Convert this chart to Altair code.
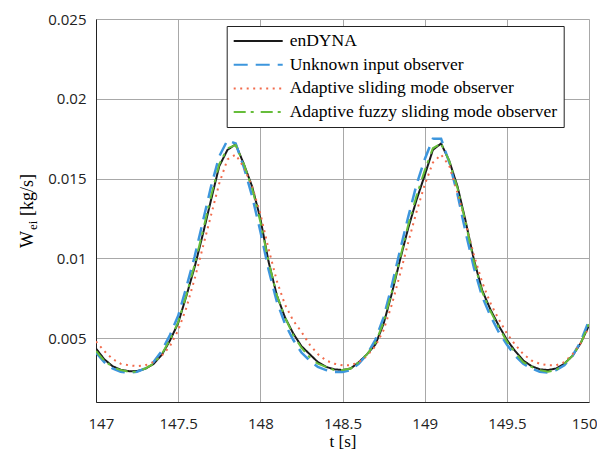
import altair as alt
import pandas as pd

t = [147.00, 147.05, 147.10, 147.15, 147.20, 147.25, 147.30, 147.35, 147.40, 147.45,
     147.50, 147.55, 147.60, 147.65, 147.70, 147.75, 147.80, 147.85, 147.90, 147.95,
     148.00, 148.05, 148.10, 148.15, 148.20, 148.25, 148.30, 148.35, 148.40, 148.45,
     148.50, 148.55, 148.60, 148.65, 148.70, 148.75, 148.80, 148.85, 148.90, 148.95,
     149.00, 149.05, 149.10, 149.15, 149.20, 149.25, 149.30, 149.35, 149.40, 149.45,
     149.50, 149.55, 149.60, 149.65, 149.70, 149.75, 149.80, 149.85, 149.90, 149.95,
     150.00]

endyna = [0.00435, 0.00368, 0.00325, 0.00302, 0.00293, 0.00294, 0.00308, 0.00338, 0.00395, 0.00485,
          0.00595, 0.00765, 0.00945, 0.01150, 0.01366, 0.01578, 0.01680, 0.01715, 0.01590, 0.01450,
          0.01250, 0.00980, 0.00770, 0.00630, 0.00530, 0.00450, 0.00400, 0.00350, 0.00320, 0.00305,
          0.00300, 0.00310, 0.00350, 0.00400, 0.00460, 0.00590, 0.00780, 0.00990, 0.01190, 0.01365,
          0.01520, 0.01680, 0.01720, 0.01610, 0.01450, 0.01230, 0.00990, 0.00800, 0.00680, 0.00580,
          0.00490, 0.00420, 0.00360, 0.00325, 0.00305, 0.00300, 0.00310, 0.00340, 0.00390, 0.00470,
          0.00580]

uio = [0.00410, 0.00350, 0.00310, 0.00290, 0.00283, 0.00290, 0.00310, 0.00350, 0.00420, 0.00520,
       0.00640, 0.00820, 0.01010, 0.01230, 0.01450, 0.01640, 0.01740, 0.01720, 0.01570, 0.01390,
       0.01170, 0.00930, 0.00730, 0.00590, 0.00490, 0.00410, 0.00360, 0.00320, 0.00300, 0.00288,
       0.00288, 0.00300, 0.00340, 0.00400, 0.00490, 0.00630, 0.00830, 0.01050, 0.01260, 0.01460,
       0.01620, 0.01750, 0.01750, 0.01600, 0.01400, 0.01160, 0.00940, 0.00760, 0.00640, 0.00540,
       0.00460, 0.00390, 0.00340, 0.00310, 0.00290, 0.00285, 0.00300, 0.00330, 0.00390, 0.00480,
       0.00610]

asmo = [0.00480, 0.00420, 0.00370, 0.00340, 0.00330, 0.00325, 0.00330, 0.00350, 0.00390, 0.00450,
        0.00550, 0.00690, 0.00870, 0.01070, 0.01270, 0.01470, 0.01620, 0.01650, 0.01570, 0.01450,
        0.01280, 0.01060, 0.00860, 0.00710, 0.00610, 0.00540, 0.00460, 0.00400, 0.00360, 0.00340,
        0.00330, 0.00330, 0.00350, 0.00390, 0.00450, 0.00550, 0.00710, 0.00900, 0.01100, 0.01290,
        0.01460, 0.01600, 0.01650, 0.01580, 0.01410, 0.01220, 0.01020, 0.00850, 0.00720, 0.00620,
        0.00530, 0.00460, 0.00400, 0.00360, 0.00340, 0.00330, 0.00330, 0.00350, 0.00400, 0.00470,
        0.00570]

afsmo = [0.00420, 0.00360, 0.00320, 0.00300, 0.00290, 0.00290, 0.00310, 0.00340, 0.00400, 0.00490,
         0.00600, 0.00770, 0.00960, 0.01170, 0.01390, 0.01590, 0.01690, 0.01710, 0.01590, 0.01440,
         0.01230, 0.00980, 0.00770, 0.00630, 0.00520, 0.00440, 0.00380, 0.00340, 0.00320, 0.00300,
         0.00300, 0.00310, 0.00350, 0.00400, 0.00470, 0.00600, 0.00790, 0.01000, 0.01210, 0.01390,
         0.01550, 0.01690, 0.01720, 0.01610, 0.01440, 0.01220, 0.00980, 0.00790, 0.00670, 0.00570,
         0.00480, 0.00410, 0.00350, 0.00320, 0.00300, 0.00290, 0.00300, 0.00340, 0.00390, 0.00470,
         0.00590]

names = ["enDYNA", "Unknown input observer", "Adaptive sliding mode observer",
         "Adaptive fuzzy sliding mode observer"]
colors = ["#1a1a1a", "#3d96dd", "#f26b4c", "#66bd3a"]
dashes = [[1, 0], [14, 8], [2, 4.5], [12, 5, 3, 7]]
widths = [2, 2.5, 2, 2]

x_ticks = [147, 147.5, 148, 148.5, 149, 149.5, 150]
y_ticks = [0.005, 0.01, 0.015, 0.02, 0.025]

rows = []
for name, vals in zip(names, [endyna, uio, asmo, afsmo]):
    for ti, v in zip(t, vals):
        rows.append({"t": ti, "v": v, "series": name})
df = pd.DataFrame(rows)

legend = alt.Legend(
    title=None, orient="none", legendX=130.7, legendY=7, direction="vertical",
    symbolType="M-1,0H5.125", symbolSize=256, symbolStrokeWidth=2,
    labelFont="Liberation Serif", labelFontSize=17.5, labelColor="black",
    labelLimit=0, labelOffset=39, rowPadding=5.7, padding=6,
    fillColor="white", strokeColor="#222",
)

color = alt.Color("series:N", scale=alt.Scale(domain=names, range=colors), legend=legend)
dash = alt.StrokeDash("series:N", scale=alt.Scale(domain=names, range=dashes), legend=legend)

xenc = alt.X("t:Q", scale=alt.Scale(domain=[147, 150], nice=False, zero=False),
             axis=alt.Axis(values=x_ticks, format="~g", title="t [s]",
                           titleFont="Liberation Serif", titleFontSize=17,
                           titleFontWeight="normal", titleColor="black", titlePadding=2,
                           labelFont="Open Sans", labelFontSize=15, labelColor="#222",
                           labelPadding=14, tickSize=0, domainColor="#222",
                           gridColor="#a8a8a8", gridWidth=1,
                           labelFlush=True, labelFlushOffset=8))
yenc = alt.Y("v:Q", scale=alt.Scale(domain=[0.001, 0.025], nice=False, zero=False),
             axis=alt.Axis(values=y_ticks, format="~g", title=None,
                           labelFont="Open Sans", labelFontSize=15, labelColor="#222",
                           labelPadding=10, tickSize=0, domainColor="#222",
                           gridColor="#a8a8a8", gridWidth=1))

layers = []
for i, name in enumerate(names):
    layers.append(
        alt.Chart(df).transform_filter(alt.datum.series == name)
        .mark_line(strokeWidth=widths[i], strokeCap="butt", clip=True)
        .encode(x=xenc, y=yenc, color=color, strokeDash=dash)
    )

ylab = [
    alt.Chart(pd.DataFrame({"s": ["W"]})).mark_text(
        angle=270, align="left", baseline="alphabetic", font="Liberation Serif",
        fontSize=18, color="black").encode(text="s:N", x=alt.value(-63), y=alt.value(229)),
    alt.Chart(pd.DataFrame({"s": ["ei"]})).mark_text(
        angle=270, align="left", baseline="alphabetic", font="Liberation Serif",
        fontSize=13, color="black").encode(text="s:N", x=alt.value(-59), y=alt.value(211)),
    alt.Chart(pd.DataFrame({"s": ["[kg/s]"]})).mark_text(
        angle=270, align="left", baseline="alphabetic", font="Liberation Serif",
        fontSize=18, color="black").encode(text="s:N", x=alt.value(-63), y=alt.value(197)),
]

chart = alt.layer(*layers, *ylab).properties(
    width=493, height=383,
    autosize=alt.AutoSizeParams(type="none"),
    padding={"left": 88, "top": 11, "right": 8, "bottom": 48},
).configure_view(stroke="#222", strokeWidth=1).configure(background="white")

chart.save("out.html", embed_options={"renderer": "svg", "actions": False})
